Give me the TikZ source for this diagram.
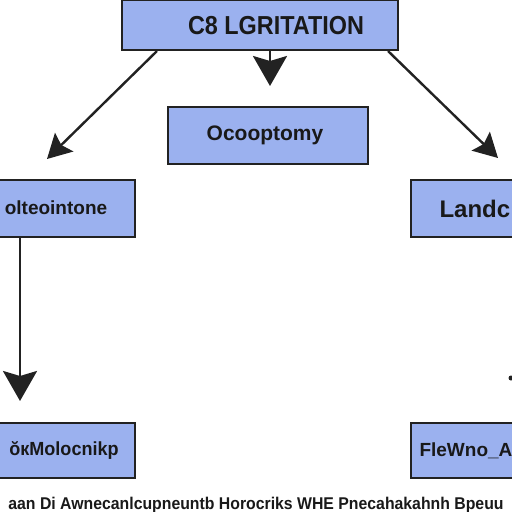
\documentclass[tikz,border=0pt]{standalone}
\usepackage{fontspec}
\setmainfont{Liberation Sans}
\usetikzlibrary{arrows.meta}
\definecolor{boxblue}{HTML}{9BB1EF}
\definecolor{edge}{HTML}{222222}
\tikzset{
  box/.style={draw=edge, line width=2pt, fill=boxblue, inner sep=0pt},
  conn/.style={draw=edge, line width=2.4pt, -{Stealth[width=26pt,length=24pt,inset=4pt]}},
  bigconn/.style={draw=edge, line width=2.6pt, -{Stealth[width=34pt,length=30pt,inset=5pt]}},
  lbl/.style={text=black!90},
}
\begin{document}
\begin{tikzpicture}[x=1pt,y=-1pt]
\useasboundingbox (0,0) rectangle (512,512);
\fill[white] (0,0) rectangle (512,512);
% boxes
\node[box, minimum width=276pt, minimum height=50pt] (top) at (260,25) {};
\node[lbl, font=\bfseries\fontsize{26}{26}\selectfont] (toptxt) at (276,26) {\scalebox{0.9}[1]{C8 LGRITATION}};
\node[box, minimum width=200pt, minimum height=57pt] (mid) at (268,135) {};
\node[lbl, font=\bfseries\fontsize{21}{21}\selectfont] (midtxt) at (265,135) {Ocooptomy};
\node[box, minimum width=140pt, minimum height=57pt] (left) at (65,208) {};
\node[lbl, font=\bfseries\fontsize{19}{19}\selectfont] (lefttxt) at (56,208) {olteointone};
\node[box, minimum width=110pt, minimum height=57pt] (right) at (466,208) {};
\node[lbl, font=\bfseries\fontsize{24}{24}\selectfont, anchor=west] (righttxt) at (436,209) {Landc};
\node[box, minimum width=140pt, minimum height=55pt] (bl) at (65,450) {};
\node[lbl, font=\bfseries\fontsize{19}{19}\selectfont] (bltxt) at (64,450) {\scalebox{0.95}[1]{ŏкMolocnikp}};
\node[box, minimum width=110pt, minimum height=55pt] (br) at (466,450) {};
\node[lbl, font=\bfseries\fontsize{19}{19}\selectfont, anchor=west] (brtxt) at (416,451) {FleWno\_A};
% connector end points
\coordinate (tl) at (157,51);
\coordinate (tm) at (270,51);
\coordinate (tr) at (388,51);
\coordinate (lt) at (47,159);
\coordinate (mt) at (270,86);
\coordinate (rt) at (498,158);
\coordinate (vl0) at (20,237);
\coordinate (vl1) at (20,401);
\draw[conn] (tl) -- (lt);
\draw[bigconn] (tm) -- (mt);
\draw[conn] (tr) -- (rt);
\draw[bigconn] (vl0) -- (vl1);
\fill[edge] (511,378) circle (2.5pt);
% bottom caption
\node[lbl, font=\bfseries\fontsize{17}{17}\selectfont, anchor=base] (cap) at (256,509) {\scalebox{0.93}[1]{aan Di Awnecanlcupneuntb Horocriks WHE Pnecahakahnh Bpeuu}};
\end{tikzpicture}
\end{document}
